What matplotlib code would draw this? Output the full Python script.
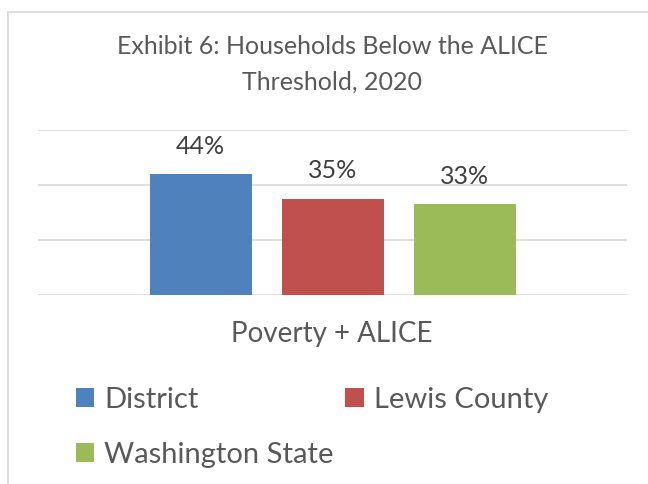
import matplotlib.pyplot as plt
from matplotlib.patches import Rectangle

# values
category = 'Poverty + ALICE'
series = ['District', 'Lewis County', 'Washington State']
values = [0.44, 0.35, 0.33]
labels = ['44%', '35%', '33%']
colors = ['#4F81BD', '#C0504D', '#9BBB59']

plt.rcParams['font.family'] = ['Lato', 'DejaVu Sans']

fig = plt.figure(figsize=(6.48, 4.84), dpi=100)
W, H = 648, 484

# chart border (only left/top visible, rest cut off)
fig.patches.append(Rectangle((8 / W, -0.2), 1.2, 1.2 - 12 / H,
                             transform=fig.transFigure, fill=False,
                             edgecolor='#d9d9d9', linewidth=1.2))

ax = fig.add_axes([38 / W, (H - 295) / H, 589 / W, 165 / H])
ax.set_xlim(0, 1)
ax.set_ylim(0, 0.6)

step = 132 / 589
width = 102 / 589
bars = []
for i, (name, v, c) in enumerate(zip(series, values, colors)):
    x = 0.5 + (i - 1) * step
    b = ax.bar(x, v, width=width, color=c, label=name, zorder=3)
    bars.append(b)
    ax.text(x, v + 0.06, labels[i], ha='center', va='bottom',
            fontsize=18, color='#404040')

for y in [0, 0.2, 0.4, 0.6]:
    ax.axhline(y, color='#d9d9d9', linewidth=1.2, zorder=1)

for s in ax.spines.values():
    s.set_visible(False)
ax.set_xticks([])
ax.set_yticks([])
ax.patch.set_alpha(0)

fig.text(332 / W, 1 - 47 / H, 'Exhibit 6: Households Below the ALICE',
         ha='center', va='center', fontsize=18, color='#595959')
fig.text(332 / W, 1 - 82 / H, 'Threshold, 2020',
         ha='center', va='center', fontsize=18, color='#595959')
fig.text(332 / W, 1 - 334 / H, category,
         ha='center', va='center', fontsize=20, color='#595959')

# row-major order: District, Lewis County / Washington State
order = [0, 2, 1]
leg = fig.legend(handles=[bars[i] for i in order],
                 labels=[series[i] for i in order], ncol=2,
                 loc='upper left', bbox_to_anchor=(76 / W, 1 - 387 / H),
                 frameon=False, fontsize=21, handlelength=0.62,
                 handleheight=0.62, handletextpad=0.35, columnspacing=0.4,
                 labelspacing=1.0, borderpad=0, borderaxespad=0)
for t in leg.get_texts():
    t.set_color('#595959')

fig.savefig('out.png', dpi=100, facecolor='white')
